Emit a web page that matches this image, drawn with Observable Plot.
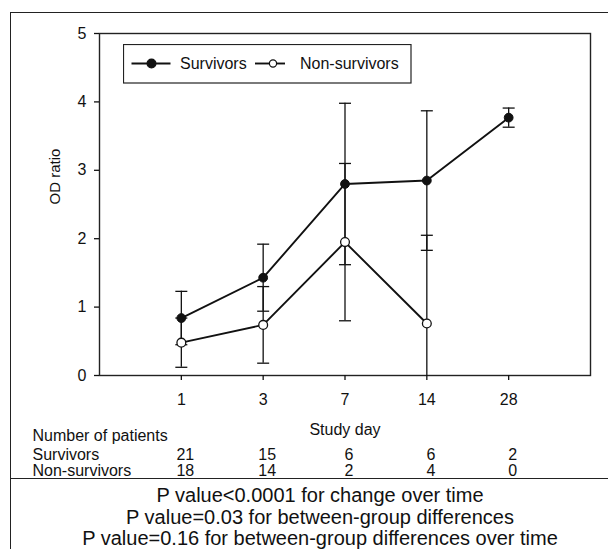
<!DOCTYPE html>
<html>
<head>
<meta charset="utf-8">
<script src="https://cdn.jsdelivr.net/npm/d3@7"></script>
<script src="https://cdn.jsdelivr.net/npm/@observablehq/plot@0.6"></script>
<style>
  html, body { margin: 0; padding: 0; background: #fff; }
  #wrap { position: relative; width: 608px; height: 549px; overflow: hidden; font-family: "Liberation Sans", Arial, sans-serif; }
  #border { position: absolute; left: 10px; top: 12px; width: 610px; height: 560px; border-left: 1.5px solid #222; border-top: 1.5px solid #222; }
  #sep { position: absolute; left: 10px; top: 478px; width: 610px; height: 0; border-top: 1.5px solid #222; }
  #chart { position: absolute; left: 0; top: 0; }
  #legend { position: absolute; left: 123px; top: 44px; }
</style>
</head>
<body>
<div id="wrap">
  <div id="border"></div>
  <div id="sep"></div>
  <div id="chart"></div>
  <svg id="legend" width="289" height="40"></svg>
</div>
<script>
// ---- data ----
const days = ["1", "3", "7", "14", "28"];
const survivorsMean = [0.84, 1.43, 2.80, 2.85, 3.77];
const survivorsErr  = [0.39, 0.49, 1.18, 1.02, 0.14];
const nonSurvivorsMean = [0.48, 0.74, 1.95, 0.76];
const nonSurvivorsErr  = [0.36, 0.56, 1.15, 1.29];
const survivorsN = [21, 15, 6, 6, 2];
const nonSurvivorsN = [18, 14, 2, 4, 0];
const yTicks = [0, 1, 2, 3, 4, 5];
const pValues = [
  "P value<0.0001 for change over time",
  "P value=0.03 for between-group differences",
  "P value=0.16 for between-group differences over time"
];

// ---- build tables ----
function series(name, means, errs) {
  return means.map((v, k) => ({
    group: name, i: k + 1, v,
    lo: Math.max(0, v - errs[k]), hi: v + errs[k], clipped: v - errs[k] < 0
  }));
}
const surv = series("Survivors", survivorsMean, survivorsErr);
const non = series("Non-survivors", nonSurvivorsMean, nonSurvivorsErr);
const all = [...surv, ...non];
const caps = [];
for (const d of all) {
  caps.push({i: d.i, v: d.hi});
  if (!d.clipped) caps.push({i: d.i, v: d.lo});
}
const capSymbol = {
  draw(ctx, size) {
    const w = Math.sqrt(size / Math.PI);
    ctx.moveTo(-w, 0); ctx.lineTo(w, 0);
  }
};
const nRows = [
  ...survivorsN.map((n, k) => ({i: k + 1, n, row: 0})),
  ...nonSurvivorsN.map((n, k) => ({i: k + 1, n, row: 1}))
];

const font = "Liberation Sans, Arial, sans-serif";
const ink = "#111";

const chart = Plot.plot({
  width: 608,
  height: 549,
  marginLeft: 99,
  marginRight: 18,
  marginTop: 33,
  marginBottom: 174,
  style: {fontFamily: font, fontSize: "16px", color: ink, background: "transparent", overflow: "visible"},
  x: {domain: [0, 6]},
  y: {domain: [0, 5]},
  marks: [
    Plot.frame({stroke: "#222", strokeWidth: 1.4}),
    Plot.axisY({ticks: yTicks, tickFormat: (d) => String(d), tickSize: 5, tickPadding: 8, label: null, fontSize: 16, strokeWidth: 1.3}),
    Plot.axisX({ticks: days.map((_, k) => k + 1), tickFormat: (t) => days[t - 1], tickSize: 5, tickPadding: 13, label: null, fontSize: 16, strokeWidth: 1.3}),
    Plot.text(["OD ratio"], {frameAnchor: "left", dx: -44, rotate: -90, fontSize: 15, fill: ink}),
    // error bars
    Plot.ruleX(all, {x: "i", y1: "lo", y2: "hi", stroke: ink, strokeWidth: 1.3}),
    Plot.dot(caps, {x: "i", y: "v", symbol: capSymbol, r: 6, fill: "none", stroke: ink, strokeWidth: 1.3}),
    // lines
    Plot.line(surv, {x: "i", y: "v", stroke: ink, strokeWidth: 1.9}),
    Plot.line(non, {x: "i", y: "v", stroke: ink, strokeWidth: 1.9}),
    Plot.dot(surv, {x: "i", y: "v", r: 4.4, fill: ink, stroke: ink, strokeWidth: 1}),
    Plot.dot(non, {x: "i", y: "v", r: 4.4, fill: "white", stroke: ink, strokeWidth: 1.3}),
    // table below the axis
    Plot.text(["Study day"], {frameAnchor: "bottom", dy: 54, lineAnchor: "middle", fontSize: 16, fill: ink}),
    Plot.text(["Number of patients"], {frameAnchor: "bottom-left", dx: -67, dy: 60, textAnchor: "start", lineAnchor: "middle", fontSize: 16, fill: ink}),
    Plot.text(["Survivors"], {frameAnchor: "bottom-left", dx: -67, dy: 79, textAnchor: "start", lineAnchor: "middle", fontSize: 16, fill: ink}),
    Plot.text(["Non-survivors"], {frameAnchor: "bottom-left", dx: -67, dy: 95.5, textAnchor: "start", lineAnchor: "middle", fontSize: 16, fill: ink}),
    Plot.text(nRows.filter(d => d.row === 0), {x: "i", text: "n", frameAnchor: "bottom", dx: 4, dy: 79, lineAnchor: "middle", fontSize: 16, fill: ink}),
    Plot.text(nRows.filter(d => d.row === 1), {x: "i", text: "n", frameAnchor: "bottom", dx: 4, dy: 95.5, lineAnchor: "middle", fontSize: 16, fill: ink}),
    // p values
    Plot.text([pValues[0]], {frameAnchor: "bottom", dx: -25, dy: 120, lineAnchor: "middle", fontSize: 20, fill: ink}),
    Plot.text([pValues[1]], {frameAnchor: "bottom", dx: -25, dy: 142, lineAnchor: "middle", fontSize: 20, fill: ink}),
    Plot.text([pValues[2]], {frameAnchor: "bottom", dx: -25, dy: 163.5, lineAnchor: "middle", fontSize: 20, fill: ink})
  ]
});
document.getElementById("chart").appendChild(chart);

// ---- legend ----
const lg = d3.select("#legend");
lg.append("rect").attr("x", 0.5).attr("y", 0.5).attr("width", 287.5).attr("height", 38.5)
  .attr("fill", "white").attr("stroke", "#222").attr("stroke-width", 1.2);
const items = [
  {label: "Survivors", x0: 8.5, x1: 47.5, cx: 28.5, fill: ink, r: 4.4, tx: 57},
  {label: "Non-survivors", x0: 132, x1: 162, cx: 150, fill: "white", r: 3.6, tx: 177}
];
for (const it of items) {
  lg.append("line").attr("x1", it.x0).attr("x2", it.x1).attr("y1", 19.5).attr("y2", 19.5)
    .attr("stroke", ink).attr("stroke-width", 1.9);
  lg.append("circle").attr("cx", it.cx).attr("cy", 19.5).attr("r", it.r)
    .attr("fill", it.fill).attr("stroke", ink).attr("stroke-width", 1.2);
  lg.append("text").attr("x", it.tx).attr("y", 19.5).attr("dy", "0.35em")
    .attr("font-family", font).attr("font-size", 16).attr("fill", ink).text(it.label);
}
</script>
</body>
</html>
